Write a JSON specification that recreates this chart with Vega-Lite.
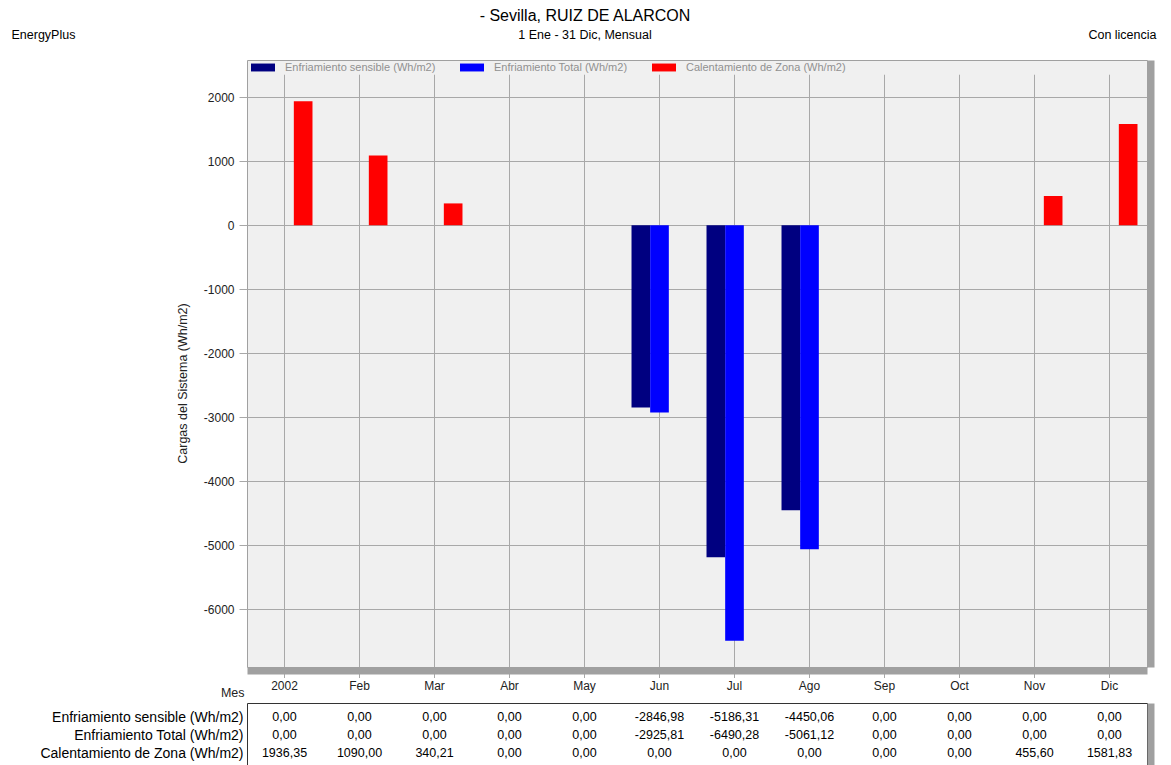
{
  "$schema": "https://vega.github.io/schema/vega-lite/v6.json",
  "background": "white",
  "padding": {"left": 10, "top": 8, "right": 5, "bottom": 0},
  "config": {
    "font": "Liberation Sans",
    "locale": {"number": {"decimal": ",", "thousands": ".", "grouping": [3], "currency": ["", " €"], "minus": "-"}},
    "title": {"font": "Liberation Sans", "subtitleFont": "Liberation Sans"},
    "axis": {"labelFont": "Liberation Sans", "titleFont": "Liberation Sans"},
    "legend": {"labelFont": "Liberation Sans"}
  },
  "datasets": {
    "meses": [
      {"mes": "2002"}, {"mes": "Feb"}, {"mes": "Mar"}, {"mes": "Abr"}, {"mes": "May"}, {"mes": "Jun"},
      {"mes": "Jul"}, {"mes": "Ago"}, {"mes": "Sep"}, {"mes": "Oct"}, {"mes": "Nov"}, {"mes": "Dic"}
    ],
    "cargas": [
      {"mes": "2002", "serie": "Enfriamiento sensible (Wh/m2)", "valor": 0},
      {"mes": "Feb", "serie": "Enfriamiento sensible (Wh/m2)", "valor": 0},
      {"mes": "Mar", "serie": "Enfriamiento sensible (Wh/m2)", "valor": 0},
      {"mes": "Abr", "serie": "Enfriamiento sensible (Wh/m2)", "valor": 0},
      {"mes": "May", "serie": "Enfriamiento sensible (Wh/m2)", "valor": 0},
      {"mes": "Jun", "serie": "Enfriamiento sensible (Wh/m2)", "valor": -2846.98},
      {"mes": "Jul", "serie": "Enfriamiento sensible (Wh/m2)", "valor": -5186.31},
      {"mes": "Ago", "serie": "Enfriamiento sensible (Wh/m2)", "valor": -4450.06},
      {"mes": "Sep", "serie": "Enfriamiento sensible (Wh/m2)", "valor": 0},
      {"mes": "Oct", "serie": "Enfriamiento sensible (Wh/m2)", "valor": 0},
      {"mes": "Nov", "serie": "Enfriamiento sensible (Wh/m2)", "valor": 0},
      {"mes": "Dic", "serie": "Enfriamiento sensible (Wh/m2)", "valor": 0},
      {"mes": "2002", "serie": "Enfriamiento Total (Wh/m2)", "valor": 0},
      {"mes": "Feb", "serie": "Enfriamiento Total (Wh/m2)", "valor": 0},
      {"mes": "Mar", "serie": "Enfriamiento Total (Wh/m2)", "valor": 0},
      {"mes": "Abr", "serie": "Enfriamiento Total (Wh/m2)", "valor": 0},
      {"mes": "May", "serie": "Enfriamiento Total (Wh/m2)", "valor": 0},
      {"mes": "Jun", "serie": "Enfriamiento Total (Wh/m2)", "valor": -2925.81},
      {"mes": "Jul", "serie": "Enfriamiento Total (Wh/m2)", "valor": -6490.28},
      {"mes": "Ago", "serie": "Enfriamiento Total (Wh/m2)", "valor": -5061.12},
      {"mes": "Sep", "serie": "Enfriamiento Total (Wh/m2)", "valor": 0},
      {"mes": "Oct", "serie": "Enfriamiento Total (Wh/m2)", "valor": 0},
      {"mes": "Nov", "serie": "Enfriamiento Total (Wh/m2)", "valor": 0},
      {"mes": "Dic", "serie": "Enfriamiento Total (Wh/m2)", "valor": 0},
      {"mes": "2002", "serie": "Calentamiento de Zona (Wh/m2)", "valor": 1936.35},
      {"mes": "Feb", "serie": "Calentamiento de Zona (Wh/m2)", "valor": 1090.00},
      {"mes": "Mar", "serie": "Calentamiento de Zona (Wh/m2)", "valor": 340.21},
      {"mes": "Abr", "serie": "Calentamiento de Zona (Wh/m2)", "valor": 0},
      {"mes": "May", "serie": "Calentamiento de Zona (Wh/m2)", "valor": 0},
      {"mes": "Jun", "serie": "Calentamiento de Zona (Wh/m2)", "valor": 0},
      {"mes": "Jul", "serie": "Calentamiento de Zona (Wh/m2)", "valor": 0},
      {"mes": "Ago", "serie": "Calentamiento de Zona (Wh/m2)", "valor": 0},
      {"mes": "Sep", "serie": "Calentamiento de Zona (Wh/m2)", "valor": 0},
      {"mes": "Oct", "serie": "Calentamiento de Zona (Wh/m2)", "valor": 0},
      {"mes": "Nov", "serie": "Calentamiento de Zona (Wh/m2)", "valor": 455.60},
      {"mes": "Dic", "serie": "Calentamiento de Zona (Wh/m2)", "valor": 1581.83}
    ]
  },
  "title": {
    "text": "- Sevilla, RUIZ DE ALARCON",
    "subtitle": "1 Ene - 31 Dic, Mensual",
    "anchor": "middle",
    "frame": "group",
    "dx": -112,
    "fontSize": 16,
    "fontWeight": "normal",
    "color": "#000000",
    "subtitleFontSize": 12.5,
    "subtitleColor": "#000000",
    "subtitlePadding": 5,
    "offset": -14
  },
  "spacing": 2,
  "vconcat": [
    {
      "width": 900,
      "height": 607,
      "view": {"fill": "#f0f0f0", "stroke": "#a0a0a0"},
      "layer": [
        {
          "data": {"name": "meses"},
          "mark": {"type": "rule", "color": "#a8a8a8", "strokeWidth": 1},
          "encoding": {
            "x": {
              "field": "mes", "type": "nominal",
              "scale": {"domain": ["2002", "Feb", "Mar", "Abr", "May", "Jun", "Jul", "Ago", "Sep", "Oct", "Nov", "Dic"], "paddingInner": 0, "paddingOuter": 0},
              "axis": {
                "orient": "bottom", "title": "Mes", "titleX": -3, "titleY": 22, "titleAlign": "right", "titleBaseline": "middle",
                "titleFontSize": 12.5, "titleFontWeight": "normal", "titleColor": "#222222",
                "labelFontSize": 12, "labelColor": "#222222", "labelAngle": 0, "labelPadding": 3,
                "ticks": true, "tickColor": "#a8a8a8", "tickSize": 7,
                "domain": true, "domainColor": "#a0a0a0", "domainWidth": 7, "offset": 3.5, "grid": false
              }
            },
            "y": {
              "datum": 2350, "type": "quantitative",
              "scale": {"domain": [-6900, 2580], "nice": false, "zero": false},
              "axis": {
                "orient": "left", "title": "Cargas del Sistema (Wh/m2)", "titleFontSize": 12.5, "titleFontWeight": "normal", "titleColor": "#222222",
                "titleX": -65, "titleY": 323, "titleAngle": 270, "titleBaseline": "middle", "titleAlign": "center",
                "values": [-6000, -5000, -4000, -3000, -2000, -1000, 0, 1000, 2000], "format": "d",
                "labelFontSize": 12, "labelColor": "#222222", "labelPadding": 5,
                "tickSize": 8, "tickColor": "#a8a8a8", "grid": true, "gridColor": "#a8a8a8", "gridOpacity": 1, "domain": false
              }
            },
            "y2": {"datum": -6900}
          }
        },
        {
          "data": {"name": "cargas"},
          "transform": [{"filter": "datum.valor != 0"}],
          "mark": {"type": "bar", "strokeWidth": 0},
          "encoding": {
            "x": {
              "field": "mes", "type": "nominal",
              "axis": {
                "orient": "top", "title": "EnergyPlus", "titleX": -236, "titleY": -26, "titleAlign": "left", "titleBaseline": "middle",
                "titleFontSize": 12.5, "titleFontWeight": "normal", "titleColor": "#000000",
                "labels": false, "ticks": false, "domain": false, "grid": false
              }
            },
            "xOffset": {
              "field": "serie", "type": "nominal",
              "scale": {"domain": ["Enfriamiento sensible (Wh/m2)", "Enfriamiento Total (Wh/m2)", "Calentamiento de Zona (Wh/m2)"], "paddingInner": 0, "paddingOuter": 0.51}
            },
            "y": {
              "field": "valor", "type": "quantitative",
              "axis": {
                "orient": "right", "title": "Con licencia", "titleAngle": 0, "titleAlign": "right", "titleBaseline": "middle",
                "titleX": 5.5, "titleY": -26, "titleFontSize": 12.5, "titleFontWeight": "normal", "titleColor": "#000000",
                "labels": false, "ticks": false, "grid": false,
                "domain": true, "domainColor": "#a0a0a0", "domainWidth": 7, "offset": 3.5
              }
            },
            "color": {
              "field": "serie", "type": "nominal",
              "scale": {"domain": ["Enfriamiento sensible (Wh/m2)", "Enfriamiento Total (Wh/m2)", "Calentamiento de Zona (Wh/m2)"], "range": ["#000080", "#0000ff", "#ff0000"]},
              "legend": {
                "orient": "none", "legendX": 4, "legendY": -4.5, "direction": "horizontal", "title": null,
                "symbolType": "M-1,-0.33H1V0.33H-1Z", "symbolSize": 576, "symbolStrokeWidth": 0, "symbolOpacity": 1,
                "labelFontSize": 11, "labelColor": "#909090", "labelOffset": 10, "columnPadding": 24, "labelLimit": 400, "padding": 0
              }
            }
          }
        }
      ],
      "resolve": {"axis": {"x": "independent", "y": "independent"}}
    },
    {
      "width": 900,
      "height": 62,
      "view": {"fill": "white", "stroke": "#333333"},
      "data": {"name": "cargas"},
      "layer": [
        {
          "mark": {"type": "text", "fontSize": 12.5, "color": "#000000"},
          "encoding": {
            "x": {
              "field": "mes", "type": "nominal",
              "scale": {"domain": ["2002", "Feb", "Mar", "Abr", "May", "Jun", "Jul", "Ago", "Sep", "Oct", "Nov", "Dic"], "paddingInner": 0, "paddingOuter": 0},
              "axis": null
            },
            "y": {
              "field": "serie", "type": "nominal",
              "scale": {"type": "point", "domain": ["Enfriamiento sensible (Wh/m2)", "Enfriamiento Total (Wh/m2)", "Calentamiento de Zona (Wh/m2)"], "padding": 0.722, "align": 0.54},
              "axis": {"orient": "left", "title": null, "labelFontSize": 14, "labelColor": "#000000", "ticks": false, "domain": false, "labelPadding": 4, "labelLimit": 400}
            },
            "text": {"field": "valor", "type": "quantitative", "format": ".2f"}
          }
        },
        {
          "mark": {"type": "text", "opacity": 0},
          "encoding": {
            "x": {"field": "mes", "type": "nominal", "axis": null},
            "y": {
              "field": "serie", "type": "nominal",
              "axis": {"orient": "right", "title": null, "labels": false, "ticks": false, "grid": false, "domain": true, "domainColor": "#a0a0a0", "domainWidth": 7, "offset": 3.5}
            },
            "text": {"field": "valor", "type": "quantitative", "format": ".2f"}
          }
        }
      ],
      "resolve": {"axis": {"y": "independent"}}
    }
  ]
}
